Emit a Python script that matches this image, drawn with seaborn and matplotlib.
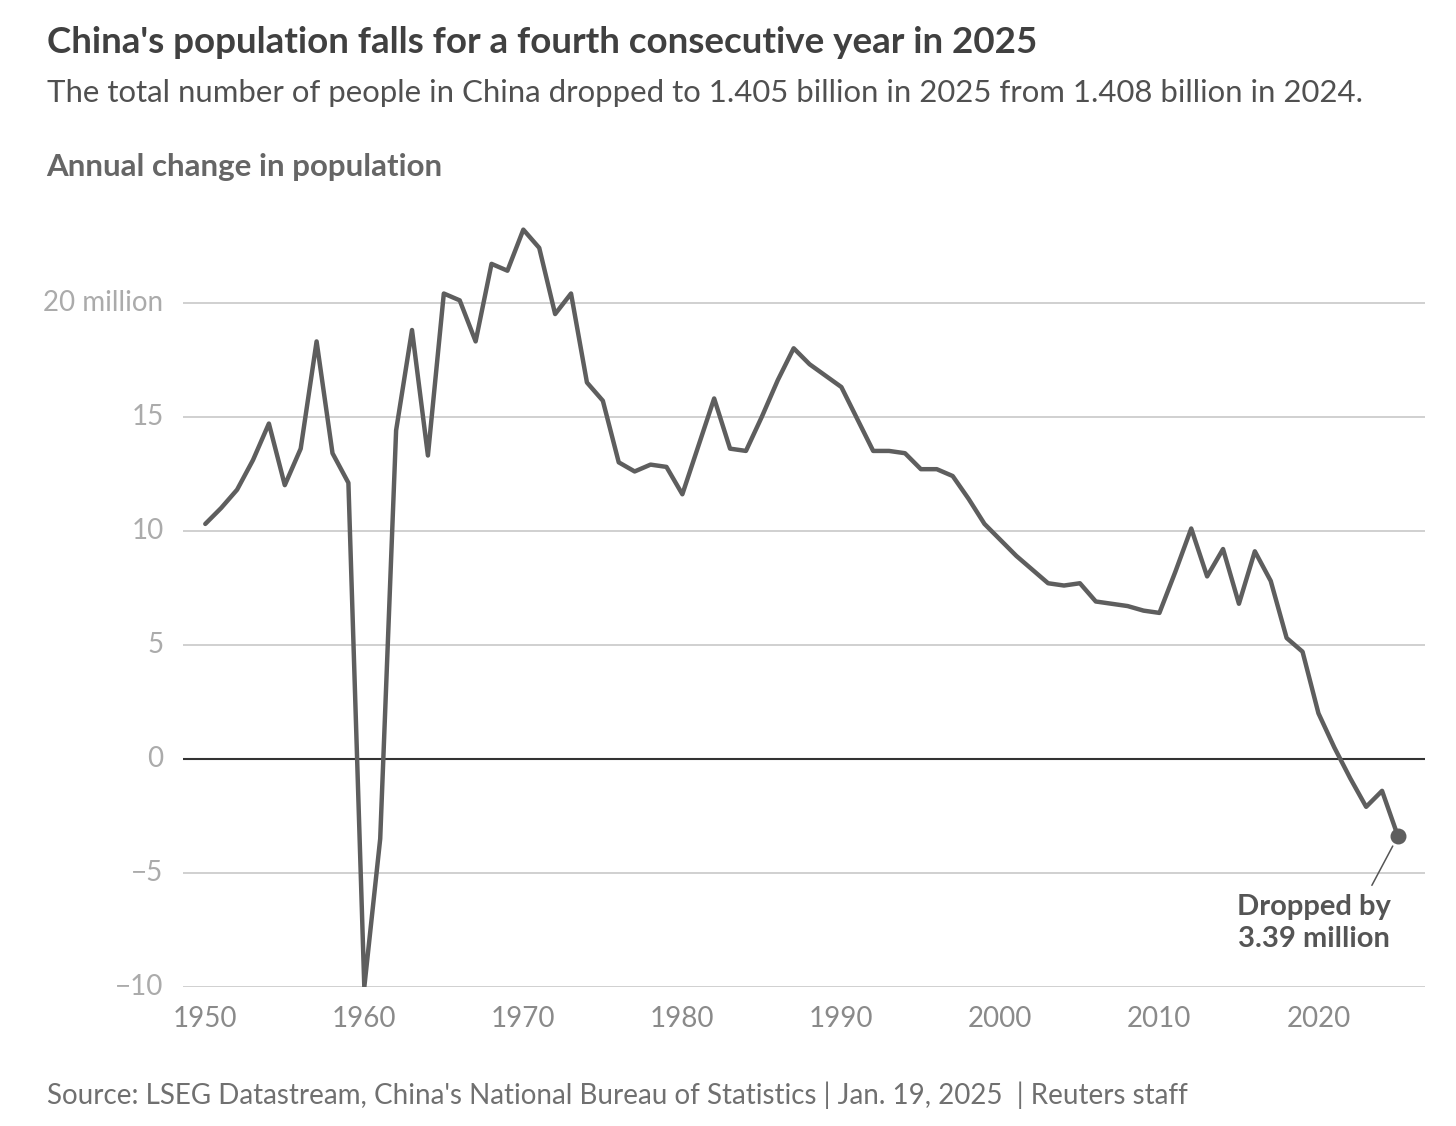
import numpy as np
import pandas as pd
import matplotlib
matplotlib.use('Agg')
import matplotlib.pyplot as plt
import seaborn as sns

years = list(range(1950, 2026))
change = [10.3, 11.0, 11.8, 13.1, 14.7, 12.0, 13.6, 18.3, 13.4, 12.1,
          -10.0, -3.5, 14.4, 18.8, 13.3, 20.4, 20.1, 18.3, 21.7, 21.4,
          23.2, 22.4, 19.5, 20.4, 16.5, 15.7, 13.0, 12.6, 12.9, 12.8,
          11.6, 13.7, 15.8, 13.6, 13.5, 15.0, 16.6, 18.0, 17.3, 16.8,
          16.3, 14.9, 13.5, 13.5, 13.4, 12.7, 12.7, 12.4, 11.4, 10.3,
          9.6, 8.9, 8.3, 7.7, 7.6, 7.7, 6.9, 6.8, 6.7, 6.5,
          6.4, 8.2, 10.1, 8.0, 9.2, 6.8, 9.1, 7.8, 5.3, 4.7,
          2.0, 0.5, -0.85, -2.1, -1.4, -3.39]
yticks = [-10, -5, 0, 5, 10, 15, 20]
ytick_labels = ['\u221210', '\u22125', '0', '5', '10', '15', '20 million']
xticks = [1950, 1960, 1970, 1980, 1990, 2000, 2010, 2020]

df = pd.DataFrame({'year': years, 'change': change})

sns.set_style('white')
plt.rcParams['font.family'] = ['Lato', 'DejaVu Sans']

fig = plt.figure(figsize=(14.56, 11.26), dpi=100)
ax = fig.add_axes([0.1257, 0.1234, 0.853, 0.699])

for t in yticks:
    if t != 0:
        ax.axhline(t, color='#c8c8c8', lw=1.2, zorder=0)
ax.axhline(0, color='#333333', lw=1.5, zorder=1)

sns.lineplot(data=df, x='year', y='change', ax=ax, color='#5e5e5e', lw=3.2, zorder=3)
ax.scatter([years[-1]], [change[-1]], s=110, color='#5e5e5e', zorder=4)

ax.set_xlim(1948.6, 2026.7)
ax.set_ylim(-10, 24.5)
ax.set_yticks(yticks)
ax.set_yticklabels(ytick_labels)
ax.set_xticks(xticks)
ax.set_xlabel('')
ax.set_ylabel('')
for s in ax.spines.values():
    s.set_visible(False)
ax.tick_params(axis='y', length=0, pad=14, labelsize=20, labelcolor='#ababab')
ax.tick_params(axis='x', length=0, pad=14, labelsize=20, labelcolor='#8a8a8a')
for lbl in ax.get_yticklabels():
    lbl.set_verticalalignment('center')

ax.annotate('Dropped by\n3.39 million', xy=(years[-1], change[-1]),
            xytext=(2019.7, -5.9), ha='center', va='top', fontsize=21,
            fontweight='bold', color='#555555', linespacing=1.3,
            arrowprops=dict(arrowstyle='-', color='#555555', lw=1.1,
                            shrinkA=4, shrinkB=8, relpos=(0.85, 1.0)))

fig.text(0.032, 0.962, "China's population falls for a fourth consecutive year in 2025",
         fontsize=26.5, fontweight='bold', color='#404040', va='center')
fig.text(0.032, 0.917, 'The total number of people in China dropped to 1.405 billion in 2025 from 1.408 billion in 2024.',
         fontsize=22.4, color='#505050', va='center')
fig.text(0.032, 0.852, 'Annual change in population', fontsize=22.5,
         fontweight='bold', color='#666666', va='center')
fig.text(0.032, 0.027, "Source: LSEG Datastream, China's National Bureau of Statistics | Jan. 19, 2025  | Reuters staff",
         fontsize=20, color='#707070', va='center')

fig.savefig('out.png', dpi=100, facecolor='white')
